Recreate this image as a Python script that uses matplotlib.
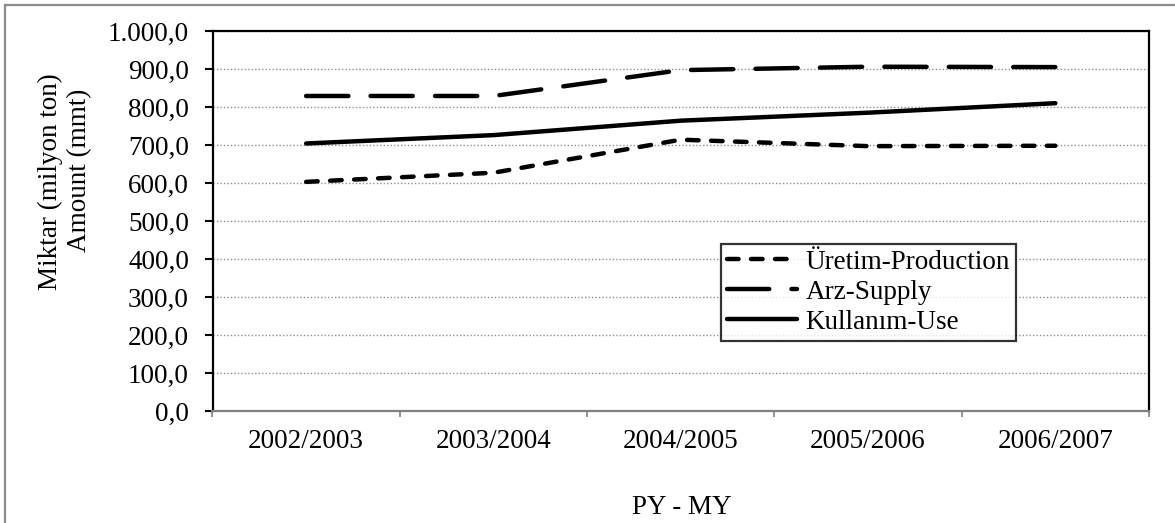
import matplotlib
matplotlib.use("Agg")
import matplotlib.pyplot as plt
from matplotlib.ticker import FuncFormatter, MultipleLocator, FixedLocator
from matplotlib.patches import Rectangle

plt.rcParams['font.family'] = ['Liberation Serif', 'DejaVu Serif']

# data (million tons)
years = ["2002/2003", "2003/2004", "2004/2005", "2005/2006", "2006/2007"]
production = [603, 627, 714, 697, 698]
supply = [829, 829, 897, 906, 905]
use = [704, 726, 764, 785, 810]
labels = ["Üretim-Production", "Arz-Supply", "Kullanım-Use"]

W, H = 1175, 523
fs = 19.5
fig = plt.figure(figsize=(W / 100, H / 100), dpi=100)
ax = fig.add_axes([212.5 / W, 1 - 411 / H, (1149 - 212.5) / W, (411 - 31) / H])

x = list(range(len(years)))
lw = 3.2
l1, = ax.plot(x, production, color="black", lw=lw, dashes=(2.6, 2.8),
              dash_capstyle="round", label=labels[0])
l2, = ax.plot(x, supply, color="black", lw=lw, dashes=(9.5, 5.0),
              dash_capstyle="round", label=labels[1])
l3, = ax.plot(x, use, color="black", lw=lw, solid_capstyle="round", label=labels[2])

ax.set_xlim(-0.5, len(years) - 0.5)
ax.set_ylim(0, 1000)
ax.yaxis.set_major_locator(MultipleLocator(100))


def tr_fmt(v, pos):
    s = f"{v:,.1f}"
    return s.replace(",", "X").replace(".", ",").replace("X", ".")


ax.yaxis.set_major_formatter(FuncFormatter(tr_fmt))
ax.set_xticks(x)
ax.set_xticklabels(years)
ax.xaxis.set_minor_locator(FixedLocator([i - 0.5 for i in range(len(years) + 1)]))

ax.tick_params(axis="x", which="major", length=0, pad=13, labelsize=fs)
ax.tick_params(axis="x", which="minor", length=4, width=1.2, color="#808080", direction="out")
ax.tick_params(axis="y", length=6, width=1.5, color="black", pad=11, labelsize=fs)

ax.grid(axis="y", linestyle=(0, (1, 1.5)), color="#909090", linewidth=1.0)
ax.set_axisbelow(True)

for side in ["left", "top", "right"]:
    ax.spines[side].set_color("black")
    ax.spines[side].set_linewidth(1.6)
ax.spines["bottom"].set_color("#808080")
ax.spines["bottom"].set_linewidth(1.6)

# y label (two lines)
fig.text(50 / W, 1 - 182 / H, "Miktar (milyon ton)", rotation=90, ha="center",
         va="center", fontsize=fs)
fig.text(80 / W, 1 - 170 / H, "Amount (mmt)", rotation=90, ha="center",
         va="center", fontsize=fs)
fig.text(682 / W, 1 - 507 / H, "PY - MY", ha="center", va="center", fontsize=fs)

leg = fig.legend(handles=[l1, l2, l3], loc="upper left",
                 bbox_to_anchor=(721 / W, 1 - 244 / H), fontsize=fs,
                 frameon=True, fancybox=False, edgecolor="black",
                 handlelength=2.6, handletextpad=0.3, labelspacing=0.18,
                 borderpad=0.22, borderaxespad=0)
leg.get_frame().set_linewidth(1.6)

# outer chart border
fig.patches.append(Rectangle((5 / W, -0.1), 1.2, 1.1 - 5 / H,
                             transform=fig.transFigure, fill=False,
                             edgecolor="#8c8c8c", linewidth=1.6))

fig.savefig("out.png", dpi=100)
